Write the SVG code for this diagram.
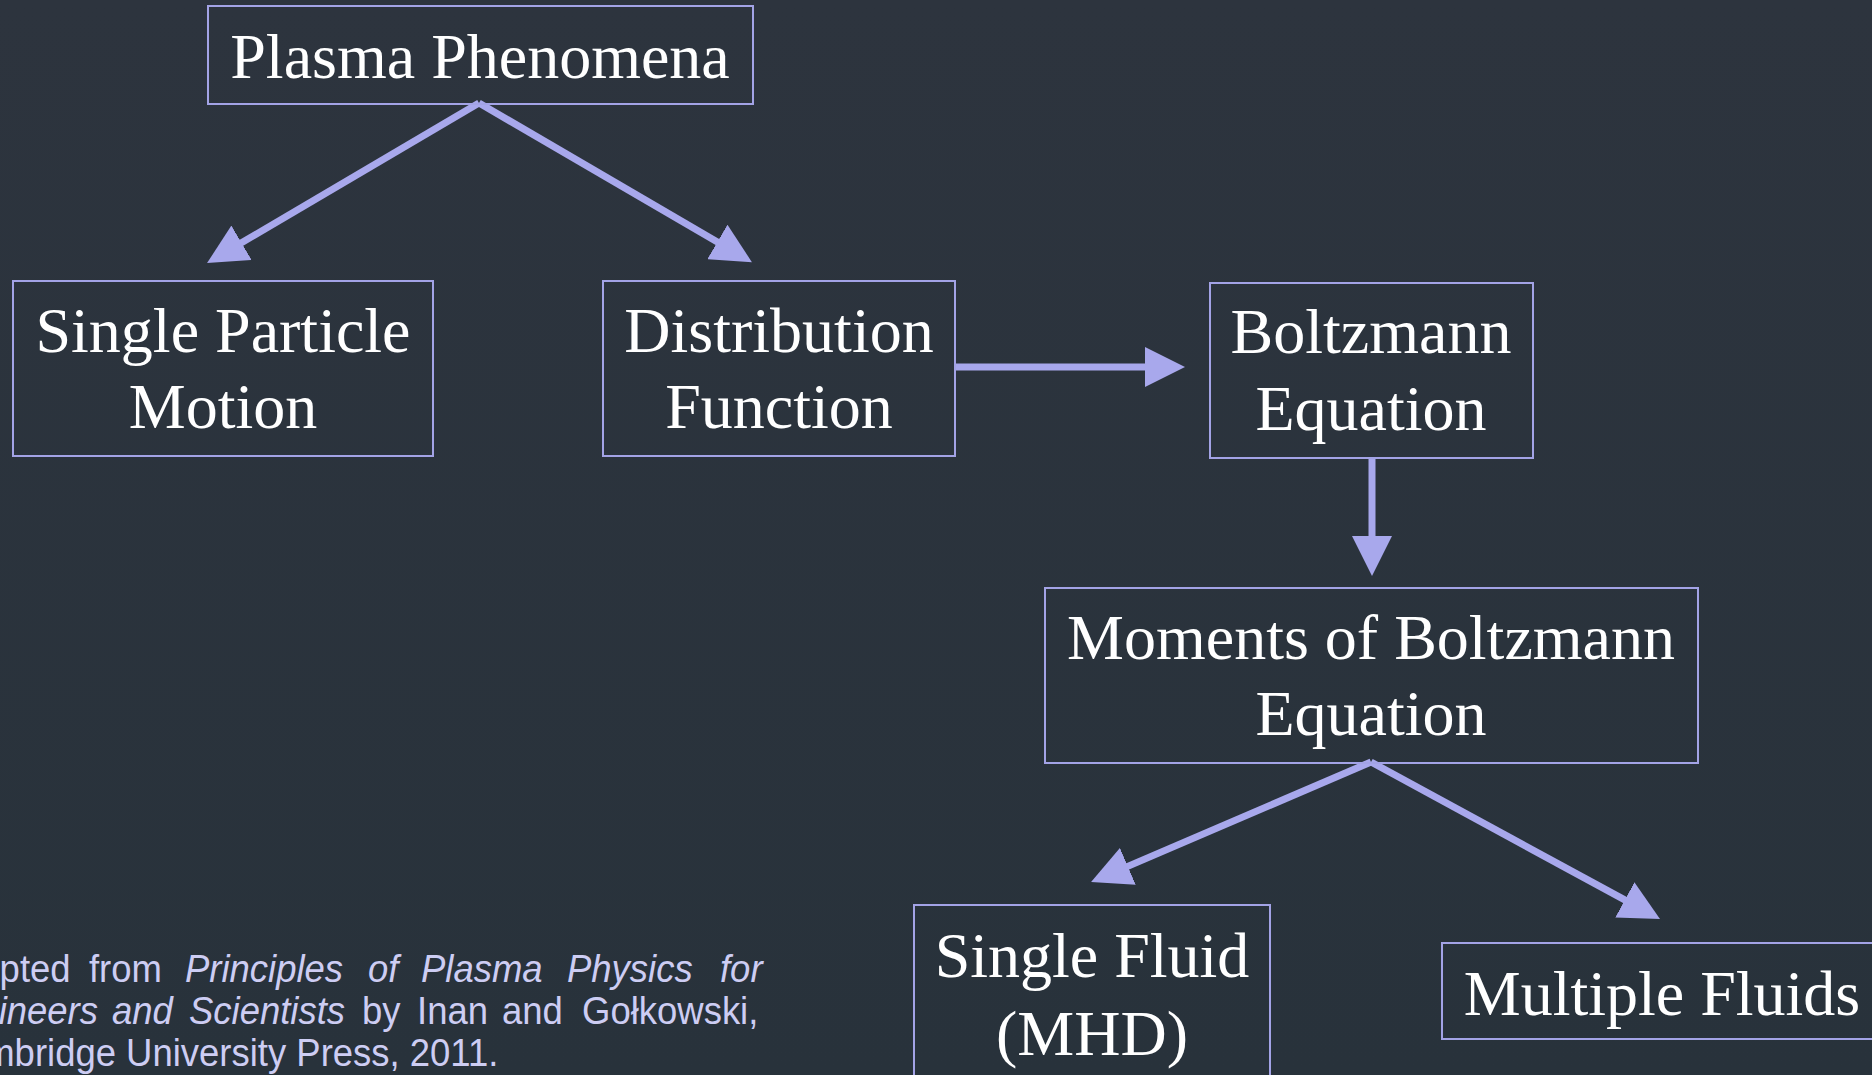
<svg xmlns="http://www.w3.org/2000/svg" width="1872" height="1075" viewBox="0 0 1872 1075">
<style>
.box{fill:none;stroke:#a3a3e6;stroke-width:2}
.lbl{font-family:"Liberation Serif","Times New Roman",serif;font-size:64px;fill:#ffffff;text-anchor:middle}
.conn{stroke:#a8a8ec;stroke-width:7;fill:none}
.note{font-family:"Liberation Sans",Arial,sans-serif;font-size:38px;fill:#cdcdf3}
.it{font-style:italic}
</style>
<defs>
<linearGradient id="bg" x1="0" y1="0" x2="0" y2="1">
<stop offset="0" stop-color="#2d343e"/>
<stop offset="1" stop-color="#28323b"/>
</linearGradient>
<marker id="ah" markerUnits="userSpaceOnUse" viewBox="0 -20 40 40" markerWidth="40" markerHeight="40" refX="2" refY="0" orient="auto">
<path d="M0,-20 L40,0 L0,20 z" fill="#a8a8ec"/>
</marker>
</defs>
<rect x="0" y="0" width="1872" height="1075" fill="url(#bg)"/>

<g id="connectors">
<line class="conn" x1="479" y1="103" x2="239.8" y2="243.8" marker-end="url(#ah)"/>
<line class="conn" x1="479" y1="103" x2="719.1" y2="243" marker-end="url(#ah)"/>
<line class="conn" x1="955" y1="367" x2="1147" y2="367" marker-end="url(#ah)"/>
<line class="conn" x1="1372" y1="458" x2="1372" y2="538" marker-end="url(#ah)"/>
<line class="conn" x1="1371" y1="762" x2="1126" y2="867.1" marker-end="url(#ah)"/>
<line class="conn" x1="1371" y1="762" x2="1626.6" y2="900.9" marker-end="url(#ah)"/>
</g>

<g id="plasma-phenomena">
<rect class="box" x="208" y="6" width="545" height="98"/>
<text class="lbl" x="480" y="78">Plasma Phenomena</text>
</g>
<g id="single-particle-motion">
<rect class="box" x="13" y="281" width="420" height="175"/>
<text class="lbl" x="223" y="352">Single Particle</text>
<text class="lbl" x="223" y="428">Motion</text>
</g>
<g id="distribution-function">
<rect class="box" x="603" y="281" width="352" height="175"/>
<text class="lbl" x="779" y="352">Distribution</text>
<text class="lbl" x="779" y="428">Function</text>
</g>
<g id="boltzmann-equation">
<rect class="box" x="1210" y="283" width="323" height="175"/>
<text class="lbl" x="1371" y="353">Boltzmann</text>
<text class="lbl" x="1371" y="430">Equation</text>
</g>
<g id="moments">
<rect class="box" x="1045" y="588" width="653" height="175"/>
<text class="lbl" x="1371" y="659">Moments of Boltzmann</text>
<text class="lbl" x="1371" y="735">Equation</text>
</g>
<g id="single-fluid">
<rect class="box" x="914" y="905" width="356" height="185"/>
<text class="lbl" x="1092" y="977">Single Fluid</text>
<text class="lbl" x="1092" y="1055">(MHD)</text>
</g>
<g id="multiple-fluids">
<rect class="box" x="1442" y="943" width="450" height="96"/>
<text class="lbl" x="1662" y="1015">Multiple Fluids</text>
</g>

<g id="citation" transform="scale(0.96,1)">
<text class="note" y="982"><tspan x="-68">Adapted</tspan><tspan x="92.7">from</tspan><tspan class="it" x="192.7">Principles</tspan><tspan class="it" x="383.3">of</tspan><tspan class="it" x="438.5">Plasma</tspan><tspan class="it" x="590.6">Physics</tspan><tspan class="it" x="750">for</tspan></text>
<text class="note" y="1024"><tspan class="it" x="-69">Engineers</tspan><tspan class="it" x="116.7">and</tspan><tspan class="it" x="196.9">Scientists</tspan><tspan x="377.1">by</tspan><tspan x="434.4">Inan</tspan><tspan x="522.9">and</tspan><tspan x="606.3">Gołkowski,</tspan></text>
<text class="note" x="-65" y="1066">Cambridge University Press, 2011.</text>
</g>
</svg>
